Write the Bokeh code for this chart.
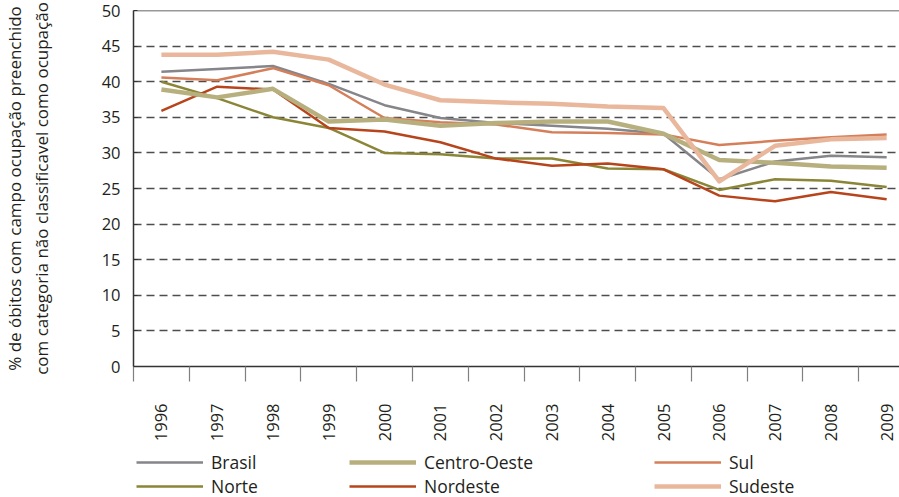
import math
from bokeh.plotting import figure
from bokeh.layouts import column
from bokeh.models import FixedTicker, Legend, LegendItem, Span
from bokeh.embed import file_html
from bokeh.resources import INLINE

years = [1996, 1997, 1998, 1999, 2000, 2001, 2002, 2003, 2004, 2005, 2006, 2007, 2008, 2009]
year_labels = [str(y) for y in years]
y_ticks = [0, 5, 10, 15, 20, 25, 30, 35, 40, 45, 50]
y_tick_labels = [str(v) for v in y_ticks]

series_names = ["Brasil", "Norte", "Centro-Oeste", "Nordeste", "Sul", "Sudeste"]
brasil = [41.4, 41.8, 42.2, 39.7, 36.7, 34.9, 34.2, 33.8, 33.4, 32.7, 26.3, 28.8, 29.6, 29.4]
norte = [40.0, 37.7, 35.0, 33.5, 30.0, 29.8, 29.2, 29.2, 27.8, 27.7, 24.8, 26.3, 26.1, 25.2]
centro_oeste = [38.9, 37.8, 39.0, 34.4, 34.7, 33.8, 34.2, 34.4, 34.4, 32.7, 29.0, 28.6, 28.1, 27.9]
nordeste = [35.9, 39.3, 38.9, 33.5, 33.0, 31.5, 29.2, 28.2, 28.5, 27.7, 24.0, 23.2, 24.5, 23.5]
sul = [40.6, 40.2, 41.9, 39.5, 34.9, 34.3, 34.0, 32.9, 32.8, 32.6, 31.1, 31.7, 32.2, 32.6]
sudeste = [43.8, 43.8, 44.2, 43.1, 39.6, 37.4, 37.1, 36.9, 36.5, 36.3, 26.0, 31.0, 31.9, 32.1]

FONT = "Open Sans"
TXT = "#231f20"

p = figure(frame_width=767, frame_height=356,
           x_range=(1995.5, 2009.248), y_range=(0, 50),
           output_backend="svg", toolbar_location=None,
           min_border_left=124, min_border_right=0,
           min_border_top=10, min_border_bottom=68)
p.outline_line_color = None
p.background_fill_color = "white"

# grid
p.xgrid.visible = False
p.ygrid.ticker = FixedTicker(ticks=y_ticks[1:-1])
p.ygrid.grid_line_color = "#4d4d4d"
p.ygrid.grid_line_width = 1.3
p.ygrid.grid_line_dash = "8 5"
p.add_layout(Span(location=50, dimension="width", line_color="#333333", line_width=1.5))

# y axis
p.yaxis.ticker = FixedTicker(ticks=y_ticks)
p.yaxis.major_label_overrides = dict(zip(y_ticks, y_tick_labels))
p.yaxis.major_tick_in = 4
p.yaxis.major_tick_out = 0
p.yaxis.minor_tick_line_color = None
p.yaxis.major_tick_line_color = "#333333"
p.yaxis.axis_line_color = "#333333"
p.yaxis.axis_line_width = 1.5
p.yaxis.major_label_standoff = 13
p.yaxis.major_label_text_font = FONT
p.yaxis.major_label_text_font_size = "16.5px"
p.yaxis.major_label_text_color = TXT
p.yaxis.axis_label = "% de óbitos com campo ocupação preenchido\ncom categoria não classificavel como ocupação"
p.yaxis.axis_label_text_font = FONT
p.yaxis.axis_label_text_font_size = "17px"
p.yaxis.axis_label_text_line_height = 1.15
p.yaxis.axis_label_text_font_style = "normal"
p.yaxis.axis_label_text_color = TXT
p.yaxis.axis_label_standoff = 46

# x axis
p.xaxis.ticker = FixedTicker(ticks=years, minor_ticks=[1995.5 + i for i in range(15)])
p.xaxis.major_label_overrides = dict(zip(years, year_labels))
p.xaxis.major_label_orientation = math.pi / 2
p.xaxis.major_tick_in = 0
p.xaxis.major_tick_out = 0
p.xaxis.minor_tick_in = 0
p.xaxis.minor_tick_out = 15
p.xaxis.minor_tick_line_color = "#808080"
p.xaxis.minor_tick_line_width = 1.2
p.xaxis.axis_line_color = "#333333"
p.xaxis.axis_line_width = 1.5
p.xaxis.major_label_standoff = 22
p.xaxis.major_label_text_font = FONT
p.xaxis.major_label_text_font_size = "16.5px"
p.xaxis.major_label_text_color = TXT

# lines
colors = {"Brasil": "#85858a", "Norte": "#8b8637", "Centro-Oeste": "#b7b07e",
          "Nordeste": "#b8441c", "Sul": "#d47f5a", "Sudeste": "#e9b79c"}
widths = {"Brasil": 2.5, "Norte": 2.5, "Centro-Oeste": 4.5,
          "Nordeste": 2.5, "Sul": 2.5, "Sudeste": 4.5}
data = {"Brasil": brasil, "Norte": norte, "Centro-Oeste": centro_oeste,
        "Nordeste": nordeste, "Sul": sul, "Sudeste": sudeste}
draw_order = ["Brasil", "Sul", "Norte", "Nordeste", "Centro-Oeste", "Sudeste"]
for name in draw_order:
    p.line(years, data[name], line_color=colors[name],
           line_width=widths[name], line_join="round")

# legend strip below the chart: three columns of two entries
lf = figure(width=891, height=55, x_range=(0, 1), y_range=(0, 1),
            output_backend="svg", toolbar_location=None,
            x_axis_type=None, y_axis_type=None,
            min_border_left=0, min_border_right=0, min_border_top=0, min_border_bottom=0)
lf.outline_line_color = None
lf.grid.visible = False
nan = float("nan")
leg_renderers = {}
for name in series_names:
    leg_renderers[name] = lf.line(x=[nan], y=[nan], line_color=colors[name], line_width=widths[name])

cols = [(series_names[0:2], 3), (series_names[2:4], 216), (series_names[4:6], 521)]
for names, xoff in cols:
    lg = Legend(items=[LegendItem(label=n, renderers=[leg_renderers[n]]) for n in names],
                location=(xoff, 1), orientation="vertical",
                glyph_width=67, glyph_height=18, label_height=18,
                label_standoff=8, spacing=0, padding=0, margin=0,
                border_line_color=None, background_fill_alpha=0,
                label_text_font=FONT, label_text_font_size="17.5px",
                label_text_line_height=1.0,
                label_text_color=TXT)
    lf.add_layout(lg, "center")

layout = column(p, lf, spacing=0)
open("out.html", "w").write(file_html(layout, INLINE))
